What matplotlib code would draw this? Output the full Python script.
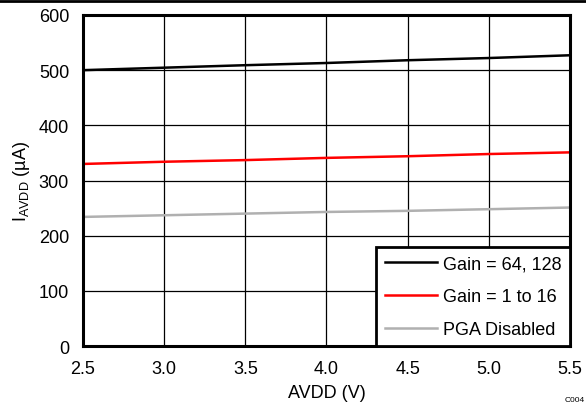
import matplotlib
matplotlib.use('Agg')
import matplotlib.pyplot as plt
from matplotlib.lines import Line2D

plt.rcParams['font.family'] = ['Liberation Sans', 'DejaVu Sans']

# supply voltage (V)
avdd = [2.5, 3.0, 3.5, 4.0, 4.5, 5.0, 5.5]
# supply current (uA)
i_gain_hi = [500, 504.5, 509, 513, 518, 522, 527]
i_gain_lo = [330, 334, 337, 341, 344, 348, 351]
i_pga_off = [234, 237, 240, 243, 245, 248, 251]

fig = plt.figure(figsize=[5.86, 4.06], dpi=100)
ax = fig.add_axes([0.1416, 0.1453, 0.8311, 0.8153])

ax.plot(avdd, i_gain_hi, color='black', lw=1.8, label='Gain = 64, 128')
ax.plot(avdd, i_gain_lo, color='#ff0000', lw=1.8, label='Gain = 1 to 16')
ax.plot(avdd, i_pga_off, color='#b0b0b0', lw=1.8, label='PGA Disabled')

ax.set_xlim(2.5, 5.5)
ax.set_ylim(0, 600)
ax.set_xticks([2.5, 3.0, 3.5, 4.0, 4.5, 5.0, 5.5])
ax.set_yticks(range(0, 601, 100))
ax.grid(True, color='black', lw=0.9)
ax.set_axisbelow(True)
ax.tick_params(length=0, labelsize=13, pad=10)
for s in ax.spines.values():
    s.set_linewidth(2.2)

ax.set_xlabel('AVDD (V)', fontsize=13, labelpad=5)
ax.set_ylabel(r'I$_{\mathregular{AVDD}}$ (µA)', fontsize=13, labelpad=5)

leg = ax.legend(loc='lower right', fontsize=13, handlelength=2.9, labelspacing=0.87,
                borderaxespad=0, fancybox=False, framealpha=1, edgecolor='black',
                borderpad=0.45, handletextpad=0.35)
leg.get_frame().set_linewidth(2.0)

fig.text(0.998, 0.005, 'C004', fontsize=6, ha='right', va='bottom')
fig.add_artist(Line2D([0, 1], [0.996, 0.996], color='black', lw=2, transform=fig.transFigure))

fig.savefig('out.png', dpi=100)
